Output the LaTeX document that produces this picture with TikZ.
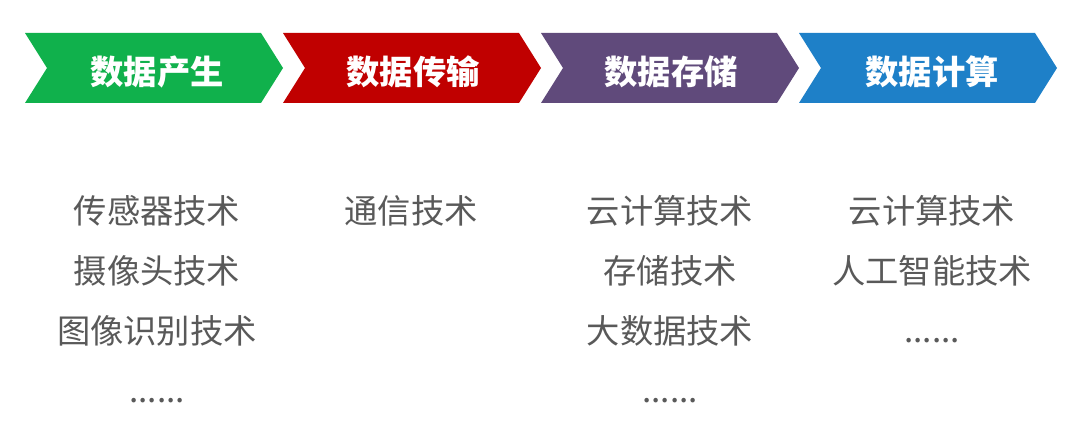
\documentclass[tikz,border=0pt]{standalone}
\usepackage{fontspec}
\setmainfont{Noto Sans CJK SC}
\usepackage{xcolor}
\definecolor{stagegreen}{HTML}{10B14C}
\definecolor{stagered}{HTML}{C00000}
\definecolor{stagepurple}{HTML}{604A7B}
\definecolor{stageblue}{HTML}{1E80C8}
\definecolor{itemgray}{HTML}{595959}

\begin{document}
\begin{tikzpicture}[x=1pt,y=-1pt,
  head/.style={anchor=base,text=white,font=\fontsize{33.3}{33.3}\selectfont\bfseries},
  item/.style={anchor=base,text=itemgray,font=\fontsize{33.3}{33.3}\selectfont}]
\tikzstyle{every node}+=[inner sep=0pt]
\useasboundingbox (0,0) rectangle (1080,433);
% chevrons
\fill [stagegreen] (25,33) -- (261,33) -- (283,68) -- (261,103) -- (25,103) -- (47,68) -- cycle;
\fill [stagered] (283,33) -- (519,33) -- (541,68) -- (519,103) -- (283,103) -- (305,68) -- cycle;
\fill [stagepurple] (541,33) -- (777,33) -- (799,68) -- (777,103) -- (541,103) -- (563,68) -- cycle;
\fill [stageblue] (799,33) -- (1035,33) -- (1057,68) -- (1035,103) -- (799,103) -- (821,68) -- cycle;
\node [head] (produce) at (157,85) {数据产生};
\node [head] (transmit) at (413,85) {数据传输};
\node [head] (store) at (671,85) {数据存储};
\node [head] (compute) at (932,85) {数据计算};
% produce
\node [item] (produce1) at (157,223) {传感器技术};
\node [item] (produce2) at (157,283) {摄像头技术};
\node [item] (produce3) at (157,343) {图像识别技术};
\node [item] (produce4) at (157,402) {......};
% transmit
\node [item] (transmit1) at (411,223) {通信技术};
% store
\node [item] (store1) at (670,223) {云计算技术};
\node [item] (store2) at (670,283) {存储技术};
\node [item] (store3) at (670,343) {大数据技术};
\node [item] (store4) at (670,402) {......};
% compute
\node [item] (compute1) at (932,223) {云计算技术};
\node [item] (compute2) at (932,283) {人工智能技术};
\node [item] (compute3) at (932,342) {......};
\end{tikzpicture}
\end{document}
